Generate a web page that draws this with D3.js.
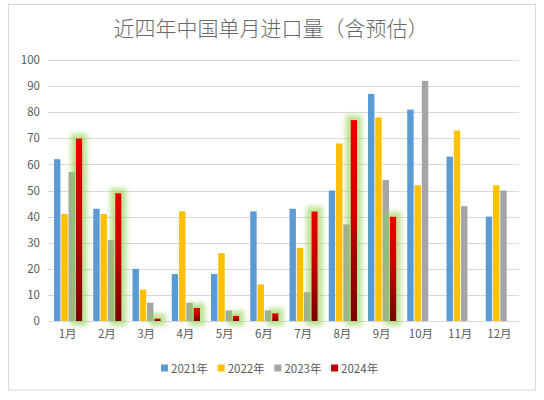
<!DOCTYPE html>
<html>
<head>
<meta charset="utf-8">
<script src="https://cdn.jsdelivr.net/npm/d3@7"></script>
<style>
  body { margin: 0; background: #fff; }
  text { font-family: "Noto Sans CJK SC", "Liberation Sans", sans-serif; }
</style>
</head>
<body>
<div id="chart"></div>
<script>
// 数据
let months = ["1月", "2月", "3月", "4月", "5月", "6月", "7月", "8月", "9月", "10月", "11月", "12月"]
let seriesNames = ["2021年", "2022年", "2023年", "2024年"]
let y2021 = [62, 43, 20, 18, 18, 42, 43, 50, 87, 81, 63, 40]
let y2022 = [41, 41, 12, 42, 26, 14, 28, 68, 78, 52, 73, 52]
let y2023 = [57, 31, 7, 7, 4, 4, 11, 37, 54, 92, 44, 50]
let y2024 = [70, 49, 1, 5, 2, 3, 42, 77, 40, null, null, null]
let yTicks = [0, 10, 20, 30, 40, 50, 60, 70, 80, 90, 100]

let colors = ["#5b9bd5", "#ffc000", "#a5a5a5", "#c00000"]
let seriesValues = [y2021, y2022, y2023, y2024]

let width = 544, height = 400
let plot = { left: 48, right: 519, top: 60, bottom: 321 }

let svg = d3.select("#chart").append("svg")
    .attr("width", width)
    .attr("height", height)

let defs = svg.append("defs")

// 2024 bars: red at top fading to dark red
let grad = defs.append("linearGradient")
    .attr("id", "redGrad")
    .attr("x1", 0).attr("y1", 0).attr("x2", 0).attr("y2", 1)
grad.append("stop").attr("offset", "0%").attr("stop-color", "#e80000")
grad.append("stop").attr("offset", "45%").attr("stop-color", "#c80000")
grad.append("stop").attr("offset", "100%").attr("stop-color", "#780000")

// green glow round the 2024 bars
let glow = defs.append("filter")
    .attr("id", "glow")
    .attr("x", "-300%").attr("y", "-50%")
    .attr("width", "700%").attr("height", "200%")
glow.append("feMorphology").attr("in", "SourceAlpha").attr("operator", "dilate").attr("radius", 4.5).attr("result", "fat")
glow.append("feGaussianBlur").attr("in", "fat").attr("stdDeviation", 2.5).attr("result", "blur")
glow.append("feFlood").attr("flood-color", "#92d050").attr("flood-opacity", 0.6)
glow.append("feComposite").attr("in2", "blur").attr("operator", "in").attr("result", "g")
let merge = glow.append("feMerge")
merge.append("feMergeNode").attr("in", "g")
merge.append("feMergeNode").attr("in", "SourceGraphic")

// chart frame
svg.append("rect")
    .attr("x", 8.5).attr("y", 4.5)
    .attr("width", 527).attr("height", 385.5)
    .attr("fill", "#fff")
    .attr("stroke", "#d9d9d9")

let y = d3.scaleLinear()
    .domain([0, 100])
    .range([plot.bottom, plot.top])

let x0 = d3.scaleBand()
    .domain(months)
    .range([plot.left, plot.right])
    .padding(0)

let x1 = d3.scaleBand()
    .domain(seriesNames)
    .range([6, x0.bandwidth() - 5])
    .paddingInner(0.12)

// gridlines
svg.append("g")
    .selectAll("line")
    .data(yTicks)
    .join("line")
    .attr("x1", plot.left).attr("x2", plot.right)
    .attr("y1", d => Math.round(y(d)) + 0.5)
    .attr("y2", d => Math.round(y(d)) + 0.5)
    .attr("stroke", "#d9d9d9")
    .attr("stroke-width", 1)

// y axis labels
let yAxis = d3.axisLeft(y).tickValues(yTicks).tickSize(0).tickPadding(0)
svg.append("g")
    .attr("transform", "translate(40,0)")
    .call(yAxis)
    .call(g => g.select(".domain").remove())
    .call(g => g.selectAll("text")
        .attr("fill", "#595959")
        .style("font-size", "11.5px")
        .style("font-family", "\"Noto Sans CJK SC\", sans-serif"))

// x axis labels
let xAxis = d3.axisBottom(x0).tickSize(0).tickPadding(0)
svg.append("g")
    .attr("transform", "translate(0," + (plot.bottom + 9) + ")")
    .call(xAxis)
    .call(g => g.select(".domain").remove())
    .call(g => g.selectAll("text")
        .attr("fill", "#595959")
        .style("font-size", "11.5px")
        .style("font-family", "\"Noto Sans CJK SC\", sans-serif"))

// bars, drawn series by series so the glow sits on top of the grey bars
let bars = []
seriesValues.forEach(function (vals, si) {
    vals.forEach(function (v, mi) {
        if (v !== null) bars.push({ series: si, month: months[mi], value: v })
    })
})

let barG = svg.append("g")
seriesNames.forEach(function (name, si) {
    barG.append("g")
        .attr("filter", si === 3 ? "url(#glow)" : null)
        .selectAll("rect")
        .data(bars.filter(d => d.series === si))
        .join("rect")
        .attr("x", d => x0(d.month) + x1(name))
        .attr("width", x1.bandwidth())
        .attr("y", d => y(d.value))
        .attr("height", d => y(0) - y(d.value))
        .attr("fill", si === 3 ? "url(#redGrad)" : colors[si])
})

// title
svg.append("text")
    .attr("x", 271)
    .attr("y", 27)
    .attr("text-anchor", "middle")
    .attr("dominant-baseline", "central")
    .attr("fill", "#6a6a6a")
    .style("font-size", "21px")
    .style("font-weight", 300)
    .text("近四年中国单月进口量（含预估）")

// legend
let legend = svg.append("g")
    .attr("transform", "translate(161,368)")
let item = legend.selectAll("g")
    .data(seriesNames)
    .join("g")
    .attr("transform", (d, i) => "translate(" + (i * 56.7) + ",0)")
item.append("rect")
    .attr("x", 0).attr("y", -3.5)
    .attr("width", 7).attr("height", 7)
    .attr("fill", (d, i) => colors[i])
item.append("text")
    .attr("x", 10)
    .attr("y", 0)
    .attr("dominant-baseline", "central")
    .attr("fill", "#595959")
    .style("font-size", "11.5px")
    .text(d => d)
</script>
</body>
</html>
